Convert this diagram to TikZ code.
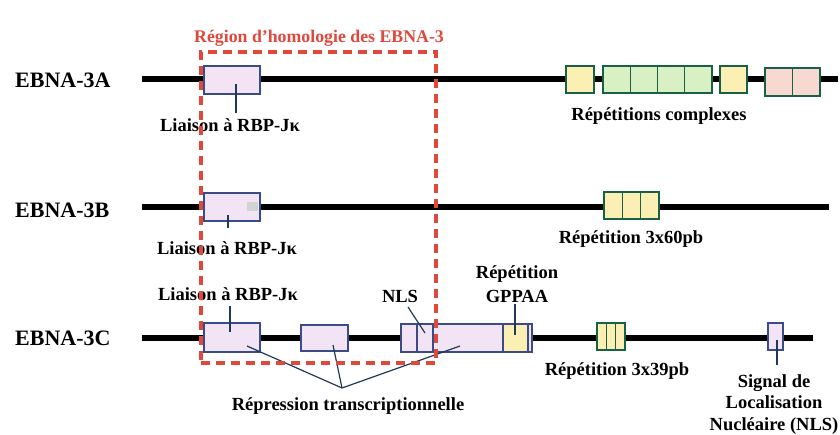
\documentclass[tikz,border=0pt]{standalone}
\usepackage{fontspec}
\setmainfont{Liberation Serif}
\definecolor{contour}{HTML}{3A4C86}
\definecolor{lila}{HTML}{F2E4F4}
\definecolor{jaune}{HTML}{FBEFB4}
\definecolor{vert}{HTML}{D9F0C4}
\definecolor{saumon}{HTML}{F8D9D2}
\definecolor{cadre}{HTML}{E0483C}
\definecolor{trait}{HTML}{1E3A58}
\begin{document}
\begin{tikzpicture}[x=1pt,y=-1pt,
    nom/.style={font=\bfseries\fontsize{22}{25}\selectfont,inner sep=0pt,anchor=base west},
    txt/.style={font=\bfseries\fontsize{18.5}{21}\selectfont,inner sep=0pt,anchor=base,align=center},
    titre/.style={font=\bfseries\fontsize{17.8}{20}\selectfont,inner sep=0pt,anchor=base,text=cadre},
    adn/.style={line width=6pt},
    dom/.style={draw=contour,line width=1.3pt,fill=lila,inner sep=0pt,minimum height=28pt},
    rep/.style={draw=trait!80!green,line width=1.3pt,inner sep=0pt,minimum height=27pt},
    tick/.style={draw=trait,line width=1.2pt},
    homol/.style={draw=cadre,line width=3.2pt,dash pattern=on 9pt off 6pt,inner sep=0pt}]
  \useasboundingbox (0,0) rectangle (840,434);

  % noms des proteines
  \node[nom] (A) at (15,87) {EBNA-3A};
  \node[nom] (B) at (15,217) {EBNA-3B};
  \node[nom] (C) at (15,345) {EBNA-3C};

  % brins
  \coordinate (a0) at (142,79);  \coordinate (a9) at (838,79);
  \coordinate (b0) at (142,207); \coordinate (b9) at (829,207);
  \coordinate (c0) at (142,338); \coordinate (c9) at (813,338);
  \draw[adn] (a0) -- (a9);
  \draw[adn] (b0) -- (b9);
  \draw[adn] (c0) -- (c9);

  % EBNA-3A
  \node[dom,minimum width=56pt] (a1) at (232,80) {};
  \node[rep,fill=jaune,minimum width=28pt] (a2) at (580,79.5) {};
  \foreach \i in {0,...,3}
    \node[rep,fill=vert,minimum width=27.25pt] (v\i) at (616.6+27.25*\i,79.5) {};
  \node[rep,fill=jaune,minimum width=27pt] (a3) at (733.5,79.5) {};
  \foreach \i in {0,1}
    \node[rep,fill=saumon,minimum width=27.5pt,minimum height=28pt] (s\i) at (778.75+27.5*\i,82) {};

  % EBNA-3B
  \node[dom,minimum width=56pt] (b1) at (232,207) {};
  \fill[gray!35] (247,202) rectangle (258,211);
  \foreach \i in {0,1,2}
    \node[rep,fill=jaune,minimum width=18.3pt] (r\i) at (613.2+18.3*\i,205.5) {};

  % EBNA-3C
  \node[dom,minimum width=56pt,minimum height=29pt] (c1) at (232,337.5) {};
  \node[dom,minimum width=47pt,minimum height=26pt] (c2) at (324.5,338) {};
  \node[dom,minimum width=131pt] (c3) at (466.5,338) {};
  \node[dom,minimum width=16pt] (c4) at (425,338) {};
  \node[dom,fill=jaune,minimum width=25pt] (c5) at (515.5,338) {};
  \foreach \i in {0,1,2}
    \node[rep,fill=jaune,minimum width=9.33pt] (t\i) at (601.7+9.33*\i,336.5) {};
  \node[dom,minimum width=15pt,minimum height=27pt] (c6) at (775.5,336.5) {};

  % legendes
  \node[txt] (la) at (230,131) {Liaison à RBP-Jκ};
  \node[txt] (lb) at (227,254) {Liaison à RBP-Jκ};
  \node[txt] (lc) at (228,300) {Liaison à RBP-Jκ};
  \node[txt] (rx) at (659,120) {Répétitions complexes};
  \node[txt] (r60) at (631,243) {Répétition 3x60pb};
  \node[txt] (r39) at (617,375) {Répétition 3x39pb};
  \node[txt] (nls) at (400,302) {NLS};
  \node[txt] (gp1) at (517,278) {Répétition};
  \node[txt] (gp2) at (517,302) {GPPAA};
  \node[txt] (rt) at (348,410) {Répression transcriptionnelle};
  \node[txt] (sg1) at (774,387) {Signal de};
  \node[txt] (sg2) at (774,408) {Localisation};
  \node[txt] (sg3) at (774,430) {Nucléaire (NLS)};

  % traits
  \coordinate (pa) at (236,84);  \coordinate (qa) at (236,113);
  \coordinate (pb) at (228,215); \coordinate (qb) at (228,228);
  \coordinate (pc) at (230,306); \coordinate (qc) at (230,332);
  \coordinate (pn) at (408,307); \coordinate (qn) at (425,333);
  \coordinate (pg) at (515,304); \coordinate (qg) at (515,335);
  \coordinate (ps) at (777,340); \coordinate (qs) at (777,365);
  \coordinate (k) at (342,388);
  \coordinate (k1) at (247,346);
  \coordinate (k2) at (333,345);
  \coordinate (k3) at (460,346);
  \begin{scope}[tick]
    \draw (pa) to (qa);
    \draw (pb) to (qb);
    \draw (pc) to (qc);
    \draw (pn) to (qn);
    \draw (pg) to (qg);
    \draw (ps) to (qs);
    \draw (k1) to (k);
    \draw (k2) to (k);
    \draw (k3) to (k);
  \end{scope}

  % region d'homologie
  \node[homol,minimum width=235pt,minimum height=311pt] (h) at (318.5,207.5) {};
  \node[titre] (ht) at (319,42) {Région d'homologie des EBNA-3};
\end{tikzpicture}
\end{document}
